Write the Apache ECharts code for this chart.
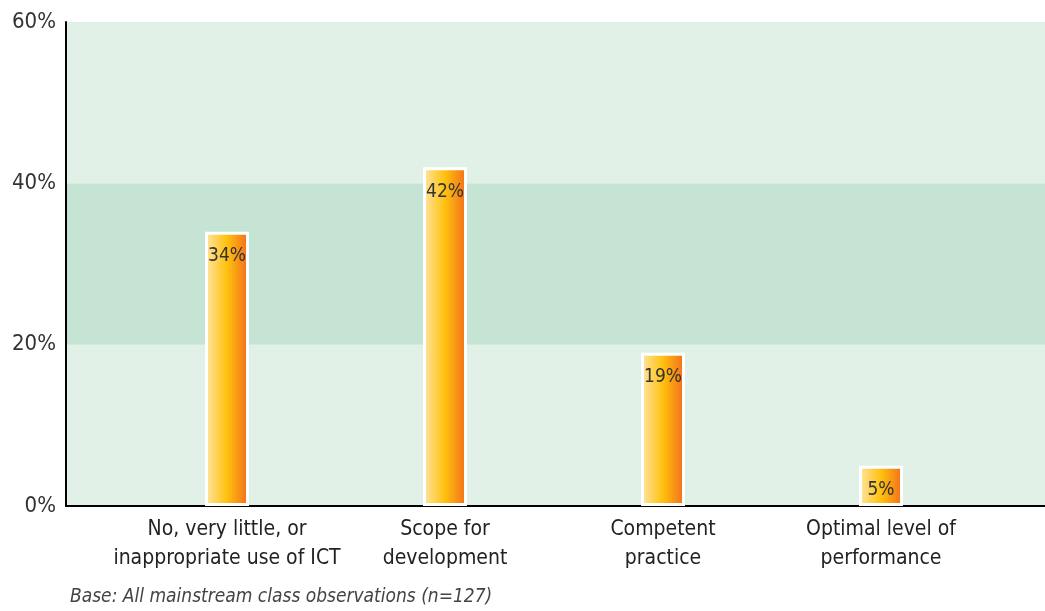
<!DOCTYPE html>
<html>
<head>
<meta charset="utf-8">
<script src="https://cdn.jsdelivr.net/npm/echarts@6/dist/echarts.min.js"></script>
<style>
  html, body { margin: 0; padding: 0; background: #fff; }
  #main { width: 1045px; height: 611px; }
</style>
</head>
<body>
<div id="main"></div>
<script>
var categories = [
  'No, very little, or\ninappropriate use of ICT',
  'Scope for\ndevelopment',
  'Competent\npractice',
  'Optimal level of\nperformance'
];
var percents = [34, 42, 19, 5];
var yTicks = [0, 20, 40, 60];

var font = '"Liberation Sans Narrow", "DejaVu Sans Condensed", sans-serif';
var chart = echarts.init(document.getElementById('main'));

var barColor = new echarts.graphic.LinearGradient(0, 0, 1, 0, [
  { offset: 0, color: '#FFE6A8' },
  { offset: 0.5, color: '#FFC10E' },
  { offset: 1, color: '#F26B1D' }
]);

var option = {
  animation: false,
  textStyle: { fontFamily: font },
  grid: [
    // background, bands and axis lines
    { left: 66, right: 0, top: 22, bottom: 105 },
    // bars and category labels
    { left: 118, right: 55, top: 22, bottom: 105 }
  ],
  xAxis: [{
    gridIndex: 0,
    type: 'value',
    min: 0, max: 1,
    axisLine: { show: true, onZero: false, lineStyle: { color: '#000', width: 2 } },
    axisTick: { show: false },
    axisLabel: { show: false },
    splitLine: { show: false }
  }, {
    gridIndex: 1,
    type: 'category',
    data: categories,
    axisLine: { show: false },
    axisTick: { show: false },
    axisLabel: {
      color: '#222', fontSize: 21, lineHeight: 29, margin: 9,
      fontFamily: font, interval: 0
    }
  }],
  yAxis: [{
    gridIndex: 0,
    type: 'value',
    min: yTicks[0], max: yTicks[yTicks.length - 1], interval: 20,
    axisLine: { show: true, lineStyle: { color: '#000', width: 2 } },
    axisTick: { show: false },
    axisLabel: {
      color: '#333', fontSize: 22, margin: 10, fontFamily: font,
      formatter: '{value}%'
    },
    splitLine: { show: false },
    splitArea: { show: true, areaStyle: { color: ['#E2F1E8', '#C6E4D4', '#E2F1E8'] } }
  }, {
    gridIndex: 1,
    type: 'value',
    min: 0, max: 60,
    show: false
  }],
  series: [{
    type: 'bar',
    xAxisIndex: 1,
    yAxisIndex: 1,
    data: percents,
    barWidth: 44,
    itemStyle: { color: barColor, borderColor: '#fff', borderWidth: 3 },
    label: {
      show: true, position: 'insideTop', distance: 15,
      color: '#333', fontSize: 19, fontFamily: font,
      formatter: '{c}%'
    }
  }],
  graphic: [{
    type: 'text',
    left: 70, top: 588,
    style: {
      text: 'Base: All mainstream class observations (n=127)',
      font: 'italic 19px ' + font,
      fill: '#444'
    }
  }]
};
chart.setOption(option);
</script>
</body>
</html>
